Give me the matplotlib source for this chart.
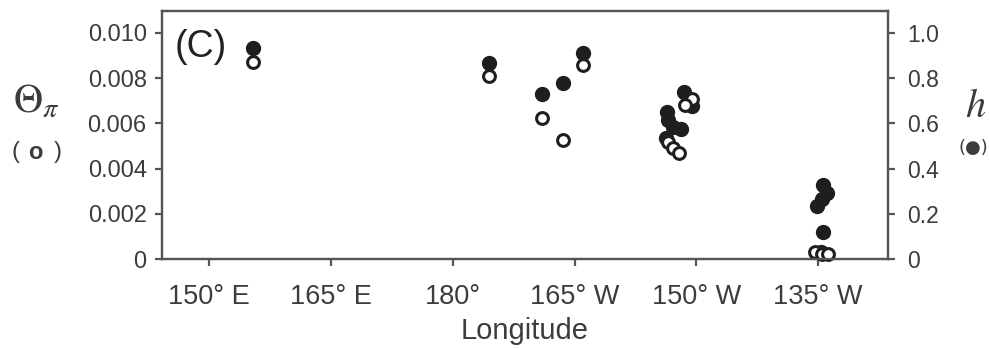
import matplotlib
matplotlib.use('Agg')
import matplotlib.pyplot as plt

plt.rcParams['font.family'] = ['Liberation Sans', 'DejaVu Sans']
plt.rcParams['mathtext.fontset'] = 'stix'

TXT = '#3c3c3c'
AXC = '#555555'
DOT = '#1e1e1e'

# longitude in degrees east (0-360), nucleotide diversity (open) and h (filled)
theta_lon = [155.4, 184.5, 191.0, 193.6, 196.0,
             209.5, 208.6, 206.5, 207.1, 207.9,
             224.6, 225.5, 226.2]
theta_pi = [0.00873, 0.00810, 0.00625, 0.00525, 0.00858,
            0.00708, 0.00681, 0.00518, 0.00491, 0.00469,
            0.00030, 0.00022, 0.00020]

h_lon = [155.4, 184.5, 191.0, 193.6, 196.0,
         208.5, 209.5, 206.4, 206.5, 207.1, 208.1, 206.3,
         225.6, 226.1, 225.5, 224.8, 225.6, 225.3]
h_div = [0.932, 0.869, 0.730, 0.780, 0.910,
         0.739, 0.677, 0.650, 0.615, 0.584, 0.575, 0.535,
         0.327, 0.292, 0.265, 0.235, 0.119, 0.030]

xticks = [150, 165, 180, 195, 210, 225]
xlabels = ['150° E', '165° E', '180°', '165° W', '150° W', '135° W']
left_ticks = [0, 0.002, 0.004, 0.006, 0.008, 0.010]
left_labels = ['0', '0.002', '0.004', '0.006', '0.008', '0.010']
right_ticks = [0, 0.2, 0.4, 0.6, 0.8, 1.0]
right_labels = ['0', '0.2', '0.4', '0.6', '0.8', '1.0']

fig = plt.figure(figsize=(9.89, 3.48), dpi=100)
fig.patch.set_facecolor('white')
ax = fig.add_axes([0.1638, 0.2557, 0.7341, 0.7127])
ax2 = ax.twinx()

# open circles sit above the filled ones
ax.set_zorder(ax2.get_zorder() + 1)
ax.patch.set_visible(False)

ax2.plot(h_lon, h_div, 'o', color=DOT, ms=10, mec=DOT, clip_on=False)
ax.plot(theta_lon, theta_pi, 'o', mfc='white', mec=DOT, mew=2.2, ms=8.5,
        clip_on=False)

ax.set_xlim(144.2, 233.6)
ax.set_ylim(0, 0.01097)
ax2.set_ylim(0, 1.097)

ax.set_xticks(xticks)
ax.set_xticklabels(xlabels)
ax.set_yticks(left_ticks)
ax.set_yticklabels(left_labels)
ax2.set_yticks(right_ticks)
ax2.set_yticklabels(right_labels)

for a in (ax, ax2):
    for s in a.spines.values():
        s.set_color(AXC)
        s.set_linewidth(1.6)
    a.tick_params(direction='out', length=5, width=1.6, color=AXC,
                  labelcolor=TXT)
ax.tick_params(axis='x', labelsize=19.5, pad=13)
ax.tick_params(axis='y', labelsize=17, pad=6)
ax2.tick_params(axis='y', labelsize=16.5, pad=9)

ax.set_xlabel('Longitude', fontsize=21, color=TXT, labelpad=5)

ax.text(0.018, 0.855, '(C)', transform=ax.transAxes, fontsize=27,
        color='#222222', va='center', ha='left')

# axis titles with marker keys
fig.text(0.037, 0.71, r'$\Theta_{\pi}$', fontsize=29, color=TXT,
         ha='center', va='center')
fig.text(0.012, 0.563, '(', fontsize=17, color=TXT, ha='left', va='center')
fig.text(0.036, 0.563, 'o', fontsize=17, color=TXT, fontweight='bold',
         ha='center', va='center')
fig.text(0.062, 0.563, ')', fontsize=17, color=TXT, ha='right', va='center')
fig.text(0.986, 0.695, r'$h$', fontsize=29, color=TXT,
         ha='center', va='center')
fig.text(0.999, 0.575, '(●)', fontsize=13, color=TXT,
         ha='right', va='center', family=['DejaVu Sans'])

plt.savefig('out.png', dpi=100, facecolor='white')
